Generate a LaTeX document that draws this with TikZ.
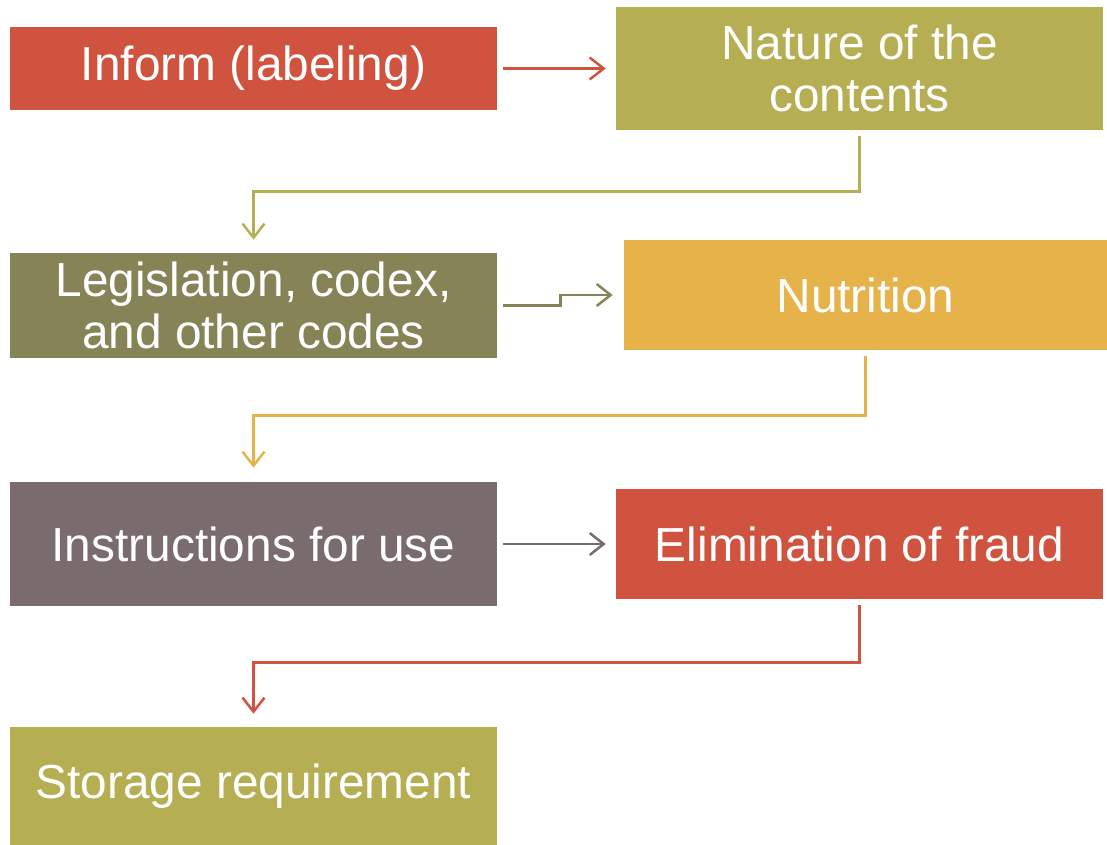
\documentclass[tikz,border=0pt]{standalone}
\usepackage{fontspec}
\setmainfont{Liberation Sans}
\usetikzlibrary{arrows.meta}
\definecolor{brick}{HTML}{D0533F}
\definecolor{olive}{HTML}{B5AE52}
\definecolor{darkolive}{HTML}{868456}
\definecolor{mustard}{HTML}{E6B34B}
\definecolor{mauve}{HTML}{7A6B6F}
\tikzset{
	box/.style={inner sep=0pt, text=white, align=center, font=\fontsize{27.2}{29.5}\selectfont},
	link/.style={line width=0.5mm, -{Straight Barb[length=2.8mm, width=4.4mm, line width=0.5mm]}}
}

\begin{document}
\begin{tikzpicture}[x=0.02cm, y=-0.02cm]
		%%%%% START %%%%%
		
		\useasboundingbox (0, 0) rectangle (1107, 845);
		
		\node[box, fill=brick, minimum width=9.74cm, minimum height=1.66cm] (inform) at (253.5, 68.5) {Inform (labeling)};
		\node[box, fill=olive, minimum width=9.74cm, minimum height=2.46cm] (nature) at (859.5, 68.5) {Nature of the\\contents};
		
		\node[box, fill=darkolive, minimum width=9.74cm, minimum height=2.1cm] (legis) at (253.5, 305.5) {Legislation, codex,\\and other codes};
		\node[box, fill=mustard, minimum width=9.66cm, minimum height=2.2cm] (nutri) at (865.5, 295) {Nutrition};
		
		\node[box, fill=mauve, minimum width=9.74cm, minimum height=2.48cm] (instr) at (253.5, 544) {Instructions for use};
		\node[box, fill=brick, minimum width=9.74cm, minimum height=2.2cm] (fraud) at (859.5, 544) {Elimination of fraud};
		
		\node[box, fill=olive, minimum width=9.74cm, minimum height=2.36cm] (storage) at (253.5, 786) {Storage requirement};
		
		\draw[link, color=brick] ([xshift=0.12cm]inform.east) -- ([xshift=-0.2cm]nature.west);
		\draw[link, color=olive] ([yshift=-0.12cm]nature.south) -- ++(0, 55) -| ([yshift=0.26cm]legis.north);
		
		\draw[link, color=darkolive] ([xshift=0.12cm]legis.east) -- ++(57, 0) |- ([xshift=-0.22cm]nutri.west);
		\draw[link, color=mustard] ([yshift=-0.12cm]nutri.south) -- ++(0, 59) -| ([yshift=0.28cm]instr.north);
		
		\draw[link, color=mauve] ([xshift=0.12cm]instr.east) -- ([xshift=-0.2cm]fraud.west);
		\draw[link, color=brick] ([yshift=-0.12cm]fraud.south) -- ++(0, 57) -| ([yshift=0.26cm]storage.north);
		
		%%%%% END %%%%%
	\end{tikzpicture}
\end{document}
